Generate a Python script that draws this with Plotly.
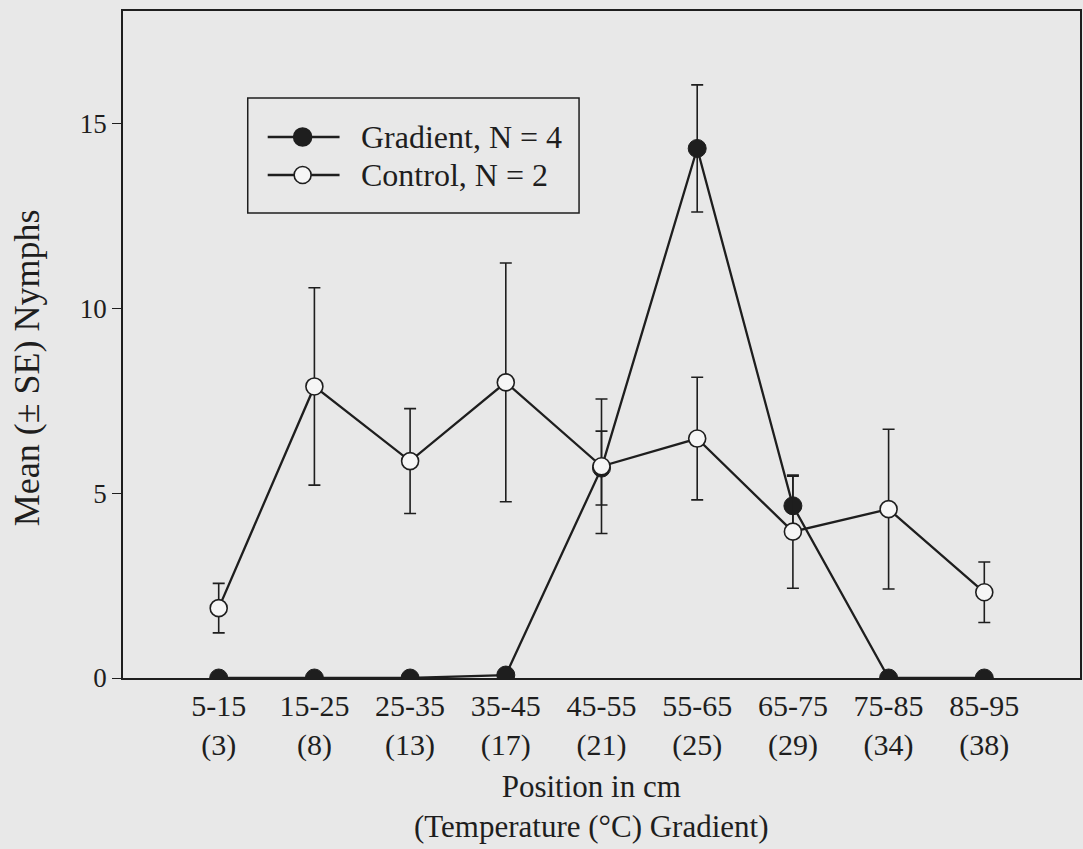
import plotly.graph_objects as go

# Position bins along the gradient (cm) and the temperature at each bin (°C)
positions = ["5-15", "15-25", "25-35", "35-45", "45-55", "55-65", "65-75", "75-85", "85-95"]
temperatures = ["(3)", "(8)", "(13)", "(17)", "(21)", "(25)", "(29)", "(34)", "(38)"]

# Mean nymph counts and standard errors
gradient_mean = [0, 0, 0, 0.08, 5.68, 14.33, 4.66, 0, 0]
gradient_se = [None, None, None, None, 1.0, 1.72, 0.8, None, None]
control_mean = [1.89, 7.89, 5.87, 8.0, 5.73, 6.48, 3.96, 4.57, 2.32]
control_se = [0.67, 2.67, 1.42, 3.23, 1.82, 1.66, 1.53, 2.16, 0.82]

y_ticks = [0, 5, 10, 15]

INK = "#1e1e1e"
PAPER = "#e8e8e8"
FONT = "Liberation Serif"

W, H = 1083, 849
L, R, T, B = 123, 1, 11, 171
PW, PH = W - L - R, H - T - B


def px_x(px):
    return (px - L) / PW


def px_y(py):
    return (H - B - py) / PH


tick_text = [f"{p}<br>{t}" for p, t in zip(positions, temperatures)]

fig = go.Figure()

fig.add_trace(go.Scatter(
    x=positions, y=gradient_mean, name="Gradient, N = 4",
    mode="lines+markers",
    line=dict(color=INK, width=2.3),
    marker=dict(symbol="circle", size=18, color=INK, line=dict(color=INK, width=1)),
    error_y=dict(type="data", array=gradient_se, visible=True,
                 color=INK, thickness=1.6, width=6),
    showlegend=False,
))

fig.add_trace(go.Scatter(
    x=positions, y=control_mean, name="Control, N = 2",
    mode="lines+markers",
    line=dict(color=INK, width=2.3),
    marker=dict(symbol="circle", size=17, color="#f6f6f6", line=dict(color=INK, width=1.6)),
    error_y=dict(type="data", array=control_se, visible=True,
                 color=INK, thickness=1.6, width=6),
    showlegend=False,
))

# Legend box drawn in paper space
shapes = [
    dict(type="rect", xref="paper", yref="paper",
         x0=px_x(248), x1=px_x(580), y0=px_y(213), y1=px_y(98),
         line=dict(color=INK, width=1.5), fillcolor="rgba(0,0,0,0)"),
]
annotations = []
legend_rows = [("Gradient, N = 4", 137, INK, 18), ("Control, N = 2", 175, "#f6f6f6", 17)]
for label, ry, fill, d in legend_rows:
    shapes.append(dict(type="line", xref="paper", yref="paper",
                       x0=px_x(268), x1=px_x(340), y0=px_y(ry), y1=px_y(ry),
                       line=dict(color=INK, width=2.3)))
    r = d / 2
    shapes.append(dict(type="circle", xref="paper", yref="paper",
                       x0=px_x(303 - r), x1=px_x(303 + r), y0=px_y(ry + r), y1=px_y(ry - r),
                       line=dict(color=INK, width=1.6), fillcolor=fill))
    annotations.append(dict(xref="paper", yref="paper", x=px_x(359), y=px_y(ry),
                            xanchor="left", yanchor="middle", showarrow=False,
                            text=label, font=dict(family=FONT, size=32, color=INK)))

# Axis titles
annotations.append(dict(xref="paper", yref="paper", x=px_x(592), y=px_y(807),
                        xanchor="center", yanchor="middle", showarrow=False,
                        text="Position in cm<br>(Temperature (°C) Gradient)",
                        font=dict(family=FONT, size=31, color=INK)))
annotations.append(dict(xref="paper", yref="paper", x=px_x(27), y=px_y(368),
                        xanchor="center", yanchor="middle", showarrow=False,
                        textangle=-90, text="Mean (± SE) Nymphs",
                        font=dict(family=FONT, size=36, color=INK)))

fig.update_layout(
    width=W, height=H,
    margin=dict(l=L, r=R, t=T, b=B, pad=0),
    paper_bgcolor=PAPER, plot_bgcolor=PAPER,
    font=dict(family=FONT, color=INK),
    shapes=shapes, annotations=annotations,
    xaxis=dict(
        range=[-1, 9], tickvals=positions, ticktext=tick_text,
        tickfont=dict(family=FONT, size=30, color=INK),
        ticks="",
        showline=True, linecolor=INK, linewidth=1.6, mirror=True,
        showgrid=False, zeroline=False,
    ),
    yaxis=dict(
        range=[0, 18.05], tickvals=y_ticks,
        tickfont=dict(family=FONT, size=27, color=INK),
        ticks="outside", ticklen=9, tickwidth=1.2, tickcolor=INK,
        showline=True, linecolor=INK, linewidth=1.6, mirror=True,
        showgrid=False, zeroline=False,
    ),
)

fig.write_html("out.html")
